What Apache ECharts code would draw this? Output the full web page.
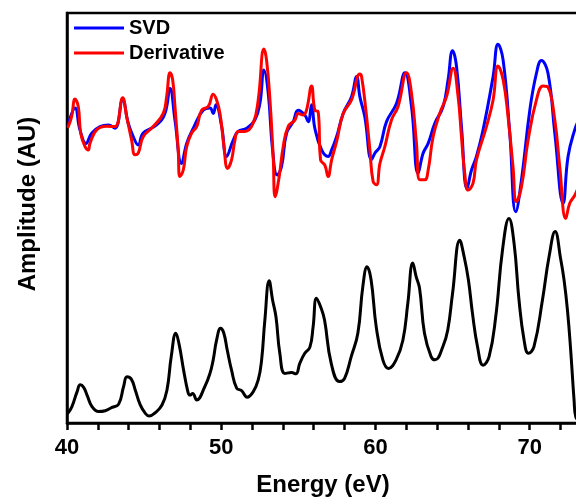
<!DOCTYPE html>
<html>
<head>
<meta charset="utf-8">
<script src="https://cdn.jsdelivr.net/npm/echarts@6/dist/echarts.min.js"></script>
<style>
  html, body { margin: 0; padding: 0; background: #fff; }
  #chart { width: 576px; height: 502px; }
</style>
</head>
<body>
<div id="chart"></div>
<script>
// Photon energy axis (eV) and amplitudes (arbitrary units) for each trace.
const energySVD = [40.08,40.52,40.84,41.23,41.60,42.14,42.68,43.11,43.61,43.97,44.30,44.62,44.94,45.81,46.35,46.68,47.00,47.43,47.76,48.19,48.83,49.27,49.48,49.66,50.03,50.35,50.78,51.10,51.65,52.18,52.51,52.77,53.05,53.33,53.63,53.91,54.24,54.67,54.99,55.42,55.64,55.86,56.07,56.51,56.93,57.16,57.48,57.91,58.45,58.78,58.99,59.31,59.75,59.96,60.29,60.72,61.37,61.91,62.34,62.77,63.09,63.42,63.85,64.39,64.71,65.00,65.26,65.58,65.94,66.23,66.55,66.98,67.63,67.95,68.28,68.71,69.10,69.47,70.01,70.44,70.76,71.19,71.63,72.17,72.49,72.92,73.2];
const ampSVD = [72.7,76.8,71.5,68.2,70.7,72.3,72.7,71.9,78.8,73.1,69.8,67.8,70.7,72.7,75.5,81.6,73.9,63.3,68.2,71.9,76.3,76.8,75.5,77.6,72.3,65.0,69.0,71.1,71.9,73.9,78.0,86.1,80.4,66.6,60.5,62.5,70.7,73.5,76.3,75.1,73.5,77.6,71.9,66.6,65.0,66.6,69.8,75.5,79.6,84.5,79.6,74.7,64.2,65.8,67.4,73.5,78.0,85.4,77.2,60.9,65.8,68.2,73.1,77.2,83.7,90.8,86.9,72.3,57.2,61.7,65.0,71.5,84.5,92.4,88.5,70.7,51.5,59.3,76.3,85.3,88.4,85.3,70.7,53.6,65.0,71.5,74];

const energyDeriv = [40.08,40.30,40.52,40.73,40.89,41.17,41.38,41.49,41.92,42.57,43.11,43.61,43.87,44.19,44.41,44.62,44.94,45.59,46.24,46.46,46.68,46.85,47.00,47.21,47.32,47.54,47.76,48.08,48.41,48.73,49.16,49.48,49.70,49.92,50.18,50.41,50.67,50.89,51.10,51.54,52.07,52.40,52.77,52.94,53.16,53.37,53.50,53.76,54.02,54.34,54.78,54.99,55.31,55.53,55.86,56.07,56.29,56.44,56.72,56.93,57.16,57.48,57.91,58.45,58.99,59.10,59.38,59.64,59.85,60.07,60.29,60.61,61.04,61.47,62.02,62.34,62.66,62.88,63.20,63.42,63.74,64.17,64.61,65.04,65.36,65.58,65.79,66.01,66.33,66.55,67.20,67.63,67.95,68.28,68.60,68.92,69.14,69.47,69.90,70.44,70.87,71.19,71.63,71.95,72.34,72.60,72.92,73.2];
const ampDeriv = [72.3,74.7,79.0,77.2,70.7,67.4,66.6,68.2,71.5,72.4,72.3,79.3,74.7,69.0,65.4,65.8,69.8,72.3,75.5,79.6,85.4,83.7,77.2,66.6,60.1,61.7,67.4,70.7,72.3,76.3,77.2,80.2,78.8,75.5,67.4,62.1,64.2,69.0,71.1,71.1,73.1,78.8,91.2,88.5,78.8,65.0,55.2,60.1,67.4,72.3,73.9,75.5,75.1,76.3,82.2,76.3,75.9,64.2,62.9,60.1,64.2,68.6,75.5,78.8,85.1,84.5,76.3,66.6,58.9,58.1,63.3,67.4,73.9,77.2,85.4,80.4,68.2,59.3,59.3,61.7,69.8,75.5,79.6,86.5,79.6,69.8,60.9,56.8,58.5,64.2,72.3,78.8,87.1,83.7,74.7,62.5,54.0,57.6,69.0,78.8,82.2,81.9,73.9,62.5,49.9,53.6,55.5,58];

const energySpec = [40.06,40.32,40.65,40.86,41.08,41.30,41.62,42.05,42.48,42.92,43.35,43.67,43.89,44.17,44.43,44.75,45.07,45.33,45.72,46.16,46.48,46.76,47.06,47.28,47.56,47.84,47.97,48.15,48.41,48.94,49.27,49.48,49.70,49.96,50.17,50.39,50.67,51.00,51.32,51.68,52.07,52.40,52.62,52.83,53.11,53.33,53.55,53.80,54.13,54.56,54.84,55.10,55.42,55.75,55.96,56.18,56.48,56.70,57.13,57.67,58.00,58.43,58.86,59.18,59.46,59.72,60.05,60.48,60.85,61.34,61.78,62.10,62.42,62.64,62.86,63.18,63.61,63.87,64.37,64.69,65.00,65.47,65.75,66.03,66.29,66.62,66.98,67.37,67.80,68.24,68.66,68.99,69.31,69.64,69.92,70.28,70.83,71.26,71.65,72.02,72.23,72.45,72.66,72.88,72.99,73.2];
const ampSpec = [2.4,4.0,7.6,9.3,8.7,6.8,4.0,2.8,3.0,3.8,4.6,8.9,11.3,10.7,8.0,4.4,2.4,1.7,2.5,4.4,8.0,16.2,21.9,19.0,12.9,7.6,6.8,7.2,5.6,8.9,12.1,15.4,20.2,23.1,21.9,17.8,12.9,8.5,7.9,6.3,7.6,10.5,15.4,25.1,34.7,30.0,25.9,17.0,12.1,12.3,12.0,14.6,17.0,18.5,23.5,30.4,28.0,25.1,14.6,10.1,10.9,16.2,21.9,33.2,38.1,34.9,23.5,15.4,13.3,15.4,20.2,29.2,39.0,35.7,32.9,21.9,16.2,15.4,18.6,22.7,31.6,44.6,40.6,34.9,26.8,18.6,14.1,16.2,25.9,42.2,49.9,43.8,30.0,20.2,17.0,18.6,30.0,40.6,46.7,39.8,34.9,27.6,17.8,5.6,1.5,0.5];

const seriesNames = ['SVD', 'Derivative'];
const xMin = 40, xMax = 73.2, xStep = 2;

function pairs(xs, ys) { return xs.map((x, i) => [x, ys[i]]); }

const FONT = '"Liberation Sans", Arial, sans-serif';
const chart = echarts.init(document.getElementById('chart'), null, { renderer: 'canvas' });

chart.setOption({
  animation: false,
  backgroundColor: '#fff',
  grid: {
    left: 67, top: 13, right: -3, bottom: 79,
    outerBoundsMode: 'none',
    containLabel: false,
    show: true, borderColor: '#000', borderWidth: 2.5, backgroundColor: 'transparent'
  },
  legend: {
    data: seriesNames,
    orient: 'vertical',
    left: 74, top: 18, padding: 0,
    icon: 'rect',
    itemWidth: 50, itemHeight: 3, itemGap: 5,
    textStyle: { fontFamily: FONT, fontWeight: 'bold', fontSize: 20, color: '#000', lineHeight: 20 }
  },
  xAxis: {
    type: 'value',
    min: xMin, max: xMax, interval: xStep,
    name: 'Energy (eV)',
    nameLocation: 'middle',
    nameGap: 50,
    nameTextStyle: { fontFamily: FONT, fontWeight: 'bold', fontSize: 24, color: '#000' },
    axisLine: { show: true, lineStyle: { color: '#000', width: 2.5 } },
    axisTick: { show: true, inside: false, length: 7, lineStyle: { color: '#000', width: 2.5 } },
    axisLabel: {
      margin: 14,
      fontFamily: FONT, fontWeight: 'bold', fontSize: 22, color: '#000',
      formatter: v => (Math.abs(v % 10) < 1e-6 ? String(v) : '')
    },
    splitLine: { show: false }
  },
  yAxis: {
    type: 'value',
    min: 0, max: 100,
    name: 'Amplitude (AU)',
    nameLocation: 'middle',
    nameGap: 27,
    nameTextStyle: { fontFamily: FONT, fontWeight: 'bold', fontSize: 24, color: '#000', padding: [0, 0, 0, 28] },
    axisLine: { show: true, lineStyle: { color: '#000', width: 2.5 } },
    axisTick: { show: false },
    axisLabel: { show: false },
    splitLine: { show: false }
  },
  series: [
    {
      name: 'SVD', type: 'line', symbol: 'none', smooth: 0.45,
      lineStyle: { color: '#0000ff', width: 3, join: 'round', cap: 'round' }, itemStyle: { color: '#0000ff' },
      data: pairs(energySVD, ampSVD)
    },
    {
      name: 'Derivative', type: 'line', symbol: 'none', smooth: 0.45,
      lineStyle: { color: '#ff0000', width: 3, join: 'round', cap: 'round' }, itemStyle: { color: '#ff0000' },
      data: pairs(energyDeriv, ampDeriv)
    },
    {
      name: 'Spectrum', type: 'line', symbol: 'none', smooth: 0.45,
      lineStyle: { color: '#000', width: 3, join: 'round', cap: 'round' }, itemStyle: { color: '#000' },
      data: pairs(energySpec, ampSpec)
    }
  ]
});
</script>
</body>
</html>
